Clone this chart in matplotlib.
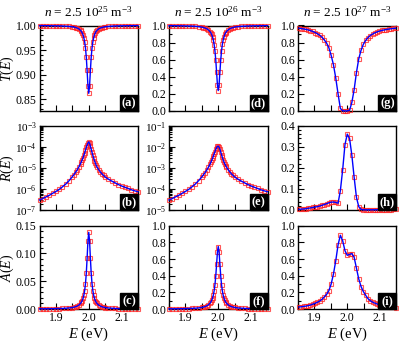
import matplotlib
matplotlib.use("Agg")
import matplotlib.pyplot as plt
from matplotlib.patches import Rectangle
from matplotlib.ticker import MultipleLocator, LogLocator, NullFormatter, FormatStrFormatter
import numpy as np

plt.rcParams['font.family'] = ['Liberation Serif', 'DejaVu Serif']
plt.rcParams['mathtext.fontset'] = 'custom'
plt.rcParams['mathtext.rm'] = 'Liberation Serif'
plt.rcParams['mathtext.it'] = 'Liberation Serif:italic'
plt.rcParams['mathtext.bf'] = 'Liberation Serif:bold'

# ---------------- data ----------------
# energy grid for the narrow resonances (columns 1 and 2)
E_narrow = [1.85, 1.86, 1.87, 1.88, 1.89, 1.90, 1.91, 1.92, 1.93, 1.94, 1.95,
            1.955, 1.96, 1.965, 1.97, 1.975,
            1.9775, 1.98, 1.9825, 1.985, 1.9875, 1.99, 1.9925, 1.995, 1.9975, 2.0,
            2.0025, 2.005, 2.0075, 2.01, 2.0125, 2.015, 2.0175, 2.02, 2.0225,
            2.025, 2.03, 2.035, 2.04, 2.045,
            2.05, 2.06, 2.07, 2.08, 2.09, 2.10, 2.11, 2.12, 2.13, 2.14, 2.15]

# energy grid for the wide resonance (column 3)
E_wide = [1.853, 1.860, 1.867, 1.874, 1.881, 1.888, 1.895, 1.902, 1.909, 1.916,
          1.923, 1.930, 1.937, 1.944, 1.951, 1.958, 1.965, 1.972, 1.979, 1.986,
          1.993, 2.000, 2.007, 2.014, 2.021, 2.028, 2.035, 2.042, 2.049, 2.056,
          2.063, 2.070, 2.077, 2.084, 2.091, 2.098, 2.105, 2.112, 2.119, 2.126,
          2.133, 2.140, 2.147]

# n = 2.5e25 m^-3
T_a = [0.9997, 0.9997, 0.9996, 0.9995, 0.9994, 0.9993, 0.9992, 0.9990, 0.9986, 0.9981, 0.9973,
       0.9967, 0.9959, 0.9947, 0.9930, 0.9900,
       0.9880, 0.9850, 0.9810, 0.9750, 0.9670, 0.9545, 0.9357, 0.9085, 0.8775, 0.8620,
       0.8775, 0.9085, 0.9357, 0.9545, 0.9670, 0.9750, 0.9810, 0.9850, 0.9880,
       0.9900, 0.9930, 0.9947, 0.9959, 0.9967,
       0.9973, 0.9981, 0.9986, 0.9990, 0.9992, 0.9993, 0.9994, 0.9995, 0.9996, 0.9997, 0.9997]
R_b = [3.0e-7, 3.5e-7, 4.2e-7, 5.0e-7, 6.2e-7, 7.6e-7, 9.5e-7, 1.26e-6, 1.7e-6, 2.45e-6, 3.8e-6,
       4.8e-6, 6.2e-6, 8.1e-6, 1.12e-5, 1.58e-5,
       1.95e-5, 2.4e-5, 3.0e-5, 3.9e-5, 5.1e-5, 6.9e-5, 9.3e-5, 1.2e-4, 1.5e-4, 1.7e-4,
       1.48e-4, 1.07e-4, 7.6e-5, 5.4e-5, 3.9e-5, 2.9e-5, 2.2e-5, 1.7e-5, 1.35e-5,
       1.12e-5, 8.3e-6, 6.5e-6, 5.2e-6, 4.4e-6,
       3.7e-6, 2.9e-6, 2.35e-6, 1.95e-6, 1.62e-6, 1.38e-6, 1.2e-6, 1.05e-6, 9.1e-7, 8.1e-7, 7.4e-7]
A_c = [0.0003, 0.00034, 0.0004, 0.0005, 0.0006, 0.0007, 0.0008, 0.0010, 0.0014, 0.0019, 0.0027,
       0.0033, 0.0041, 0.0053, 0.0071, 0.0100,
       0.0122, 0.0151, 0.0190, 0.0247, 0.0329, 0.0454, 0.0642, 0.0914, 0.1224, 0.1380,
       0.1224, 0.0914, 0.0642, 0.0454, 0.0329, 0.0247, 0.0190, 0.0151, 0.0122,
       0.0100, 0.0071, 0.0053, 0.0041, 0.0033,
       0.0027, 0.0019, 0.0014, 0.0010, 0.0008, 0.0007, 0.0006, 0.0005, 0.0004, 0.00034, 0.0003]

# n = 2.5e26 m^-3
T_d = [0.998, 0.9975, 0.997, 0.9966, 0.996, 0.995, 0.994, 0.9925, 0.990, 0.987, 0.981,
       0.976, 0.970, 0.962, 0.949, 0.928,
       0.914, 0.895, 0.867, 0.830, 0.777, 0.701, 0.593, 0.452, 0.307, 0.239,
       0.308, 0.453, 0.595, 0.703, 0.779, 0.832, 0.868, 0.895, 0.915,
       0.929, 0.949, 0.962, 0.970, 0.976,
       0.981, 0.987, 0.990, 0.9925, 0.994, 0.995, 0.996, 0.9966, 0.997, 0.9975, 0.998]
R_e = [3.0e-5, 3.5e-5, 4.2e-5, 5.0e-5, 6.2e-5, 7.6e-5, 9.5e-5, 1.26e-4, 1.7e-4, 2.45e-4, 3.7e-4,
       4.7e-4, 6.0e-4, 7.9e-4, 1.07e-3, 1.51e-3,
       1.82e-3, 2.24e-3, 2.8e-3, 3.55e-3, 4.6e-3, 5.9e-3, 7.6e-3, 9.1e-3, 1.05e-2, 1.07e-2,
       9.5e-3, 7.6e-3, 5.6e-3, 4.2e-3, 3.1e-3, 2.4e-3, 1.9e-3, 1.55e-3, 1.29e-3,
       1.1e-3, 8.3e-4, 6.5e-4, 5.2e-4, 4.4e-4,
       3.7e-4, 2.9e-4, 2.35e-4, 1.95e-4, 1.62e-4, 1.38e-4, 1.2e-4, 1.05e-4, 9.1e-5, 8.1e-5, 7.4e-5]
A_f = [0.0021, 0.0024, 0.0028, 0.0033, 0.0039, 0.0048, 0.0059, 0.0074, 0.0097, 0.013, 0.019,
       0.023, 0.029, 0.037, 0.050, 0.070,
       0.084, 0.103, 0.130, 0.166, 0.218, 0.293, 0.399, 0.539, 0.683, 0.750,
       0.683, 0.539, 0.399, 0.293, 0.218, 0.166, 0.130, 0.103, 0.084,
       0.070, 0.050, 0.037, 0.029, 0.023,
       0.019, 0.013, 0.0097, 0.0074, 0.0059, 0.0048, 0.0039, 0.0033, 0.0028, 0.0024, 0.0021]

# n = 2.5e27 m^-3
T_g = [0.968, 0.964, 0.960, 0.955, 0.948, 0.940, 0.930, 0.918, 0.904, 0.886,
       0.863, 0.832, 0.795, 0.740, 0.650, 0.540, 0.385, 0.200, 0.030, 0.003,
       0.001, 0.001, 0.008, 0.100, 0.250, 0.450, 0.610, 0.710, 0.780, 0.825,
       0.858, 0.883, 0.900, 0.914, 0.925, 0.934, 0.942, 0.948, 0.953, 0.958,
       0.962, 0.965, 0.968]
R_h = [0.003, 0.004, 0.005, 0.006, 0.008, 0.010, 0.012, 0.014, 0.016, 0.019,
       0.022, 0.026, 0.030, 0.034, 0.037, 0.038, 0.036, 0.032, 0.092, 0.190,
       0.310, 0.360, 0.340, 0.260, 0.155, 0.060, 0.016, 0.003, 0.001, 0.0008,
       0.0008, 0.0009, 0.001, 0.001, 0.0012, 0.0013, 0.0015, 0.0016, 0.0018, 0.002,
       0.0022, 0.0025, 0.0028]
A_i = [0.024, 0.027, 0.031, 0.035, 0.041, 0.048, 0.058, 0.068, 0.080, 0.095,
       0.115, 0.145, 0.175, 0.220, 0.300, 0.420, 0.580, 0.770, 0.885, 0.820,
       0.700, 0.645, 0.655, 0.665, 0.620, 0.490, 0.360, 0.270, 0.210, 0.165,
       0.125, 0.100, 0.083, 0.070, 0.060, 0.051, 0.043, 0.036, 0.031, 0.026,
       0.022, 0.019, 0.016]

titles = [r'$n$ = 2.5 10$^{25}$ m$^{-3}$', r'$n$ = 2.5 10$^{26}$ m$^{-3}$',
          r'$n$ = 2.5 10$^{27}$ m$^{-3}$']
ylabels = [r'$T(E)$', r'$R(E)$', r'$A(E)$']
panel_labels = [['(a)', '(d)', '(g)'], ['(b)', '(e)', '(h)'], ['(c)', '(f)', '(i)']]
x_ticks = [1.9, 2.0, 2.1]

# ---------------- figure ----------------
W, H = 399, 341
fig = plt.figure(figsize=(W / 100, H / 100), dpi=100)

col_left = [39.5, 169.0, 298.0]
col_w = 98.5
row_top = [25.5, 125.7, 225.7]
row_bot = [111.0, 210.0, 309.0]

data = [[(E_narrow, T_a), (E_narrow, T_d), (E_wide, T_g)],
        [(E_narrow, R_b), (E_narrow, R_e), (E_wide, R_h)],
        [(E_narrow, A_c), (E_narrow, A_f), (E_wide, A_i)]]

ylims = [[(0.826, 1.0), (0.0, 1.0), (0.0, 1.0)],
         [(1e-7, 1e-3), (1e-5, 1e-1), (0.0, 0.4)],
         [(0.0, 0.15), (0.0, 1.0), (0.0, 1.0)]]
ymaj = [[0.05, 0.2, 0.2], [None, None, 0.1], [0.05, 0.2, 0.2]]
ymin = [[0.01, 0.1, 0.1], [None, None, 0.02], [0.01, 0.1, 0.1]]
yfmt = [['%.2f', '%.1f', '%.1f'], [None, None, '%.1f'], ['%.2f', '%.1f', '%.1f']]

tick_fs = 8.5
for r in range(3):
    for c in range(3):
        l = col_left[c] / W
        b = 1 - row_bot[r] / H
        h = (row_bot[r] - row_top[r]) / H
        ax = fig.add_axes([l, b, col_w / W, h])
        x, y = data[r][c]
        ax.plot(x, y, 's', mfc='none', mec='#ff2020', mew=0.8, ms=3.4,
                alpha=0.75, zorder=3, clip_on=False)
        ax.plot(x, y, '-', color='#0000ff', lw=1.0, zorder=4, clip_on=False)
        ax.set_xlim(1.85, 2.15)
        ax.set_ylim(*ylims[r][c])
        if r == 1 and c < 2:
            ax.set_yscale('log')
            ax.yaxis.set_major_locator(LogLocator(base=10, numticks=10))
            ax.yaxis.set_minor_locator(LogLocator(base=10, subs=np.arange(2, 10), numticks=10))
            ax.yaxis.set_minor_formatter(NullFormatter())
            ax.tick_params(axis='y', which='major', labelsize=8)
        else:
            ax.yaxis.set_major_locator(MultipleLocator(ymaj[r][c]))
            ax.yaxis.set_minor_locator(MultipleLocator(ymin[r][c]))
            ax.yaxis.set_major_formatter(FormatStrFormatter(yfmt[r][c]))
        ax.set_xticks(x_ticks)
        ax.xaxis.set_minor_locator(MultipleLocator(0.05))
        if r < 2:
            ax.set_xticklabels([])
        else:
            ax.set_xticklabels(['%.1f' % v for v in x_ticks])
            ax.set_xlabel(r'$E$ (eV)', fontsize=10.5, labelpad=1)
        ax.tick_params(which='both', direction='in', top=False, right=False,
                       pad=2, width=0.8)
        ax.tick_params(axis='x', labelsize=tick_fs)
        if not (r == 1 and c < 2):
            ax.tick_params(axis='y', labelsize=tick_fs)
        ax.tick_params(which='major', length=4)
        ax.tick_params(which='minor', length=2)
        ax.tick_params(axis='x', which='minor', length=4)
        for s in ax.spines.values():
            s.set_linewidth(1.0)
        # panel label
        bw, bh = 18.0 / col_w, 16.0 / ((row_bot[r] - row_top[r]))
        ax.add_patch(Rectangle((1 - bw, 0), bw, bh, transform=ax.transAxes,
                               facecolor='black', edgecolor='black', zorder=6,
                               clip_on=False))
        ax.text(1 - bw / 2, bh / 2, panel_labels[r][c], transform=ax.transAxes,
                ha='center', va='center', color='white', fontsize=9,
                fontweight='bold', zorder=7)
    # row y label
    fig.text(7.5 / W, 1 - (row_top[r] + row_bot[r]) / 2 / H, ylabels[r],
             rotation=90, ha='center', va='center', fontsize=10)

for c in range(3):
    fig.text((col_left[c] + col_w / 2) / W, 1 - 12.5 / H, titles[c],
             ha='center', va='center', fontsize=9.5)

fig.savefig('out.png', dpi=100)
